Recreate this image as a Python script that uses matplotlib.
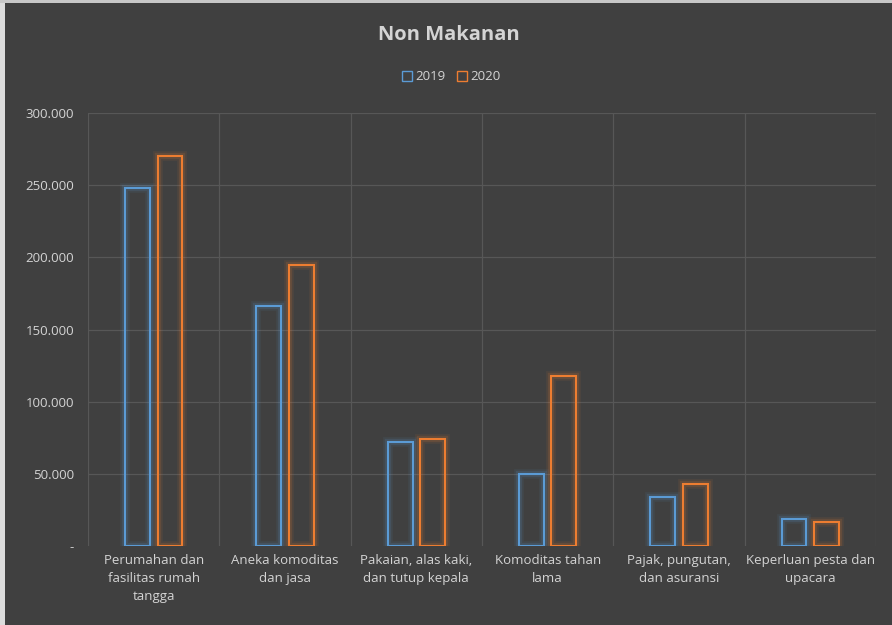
import matplotlib
matplotlib.use("Agg")
import matplotlib.pyplot as plt
import matplotlib.patheffects as pe
from matplotlib.lines import Line2D
from matplotlib.patches import Rectangle
import numpy as np

categories = ["Perumahan dan\nfasilitas rumah\ntangga", "Aneka komoditas\ndan jasa",
              "Pakaian, alas kaki,\ndan tutup kepala", "Komoditas tahan\nlama",
              "Pajak, pungutan,\ndan asuransi", "Keperluan pesta dan\nupacara"]
values_2019 = [248000, 166500, 72000, 50000, 34000, 18700]
values_2020 = [270000, 194700, 74000, 117700, 43000, 16600]
yticks = [0, 50000, 100000, 150000, 200000, 250000, 300000]
ytick_labels = ["-", "50.000", "100.000", "150.000", "200.000", "250.000", "300.000"]

bg = "#404040"
txt = "#d4d4d4"
blue = "#5b9bd5"
orange = "#ed7d31"

plt.rcParams['font.family'] = ['Open Sans', 'DejaVu Sans']
fig = plt.figure(figsize=(8.92, 6.25), dpi=100, facecolor=bg)
ax = fig.add_axes([0.0987, 0.1264, 0.8833, 0.6926])
ax.set_facecolor(bg)

x = np.arange(len(categories))
w = 0.19
off = 0.124
for vals, col, sgn in [(values_2019, blue, -1), (values_2020, orange, 1)]:
    bars = ax.bar(x + sgn * off, vals, width=w, facecolor="none", edgecolor=col, linewidth=1.5, zorder=3)
    for b in bars:
        b.set_path_effects([pe.Stroke(linewidth=7, foreground=col, alpha=0.08),
                            pe.Stroke(linewidth=4.5, foreground=col, alpha=0.14),
                            pe.Normal()])

ax.set_xlim(-0.5, len(categories) - 0.5)
ax.set_ylim(0, 300000)
ax.set_yticks(yticks)
ax.set_yticklabels(ytick_labels, color=txt, fontsize=9.5)
ax.set_xticks(x)
ax.set_xticklabels(categories, color=txt, fontsize=9.5, linespacing=1.5)
ax.tick_params(axis='both', length=0, pad=10)
ax.tick_params(axis='x', pad=6)
for yv in yticks[1:]:
    ax.axhline(yv, color="#575757", linewidth=0.9, zorder=1)
for xv in np.arange(-0.5, len(categories), 1.0):
    ax.axvline(xv, color="#575757", linewidth=0.9, zorder=1)
for s in ax.spines.values():
    s.set_visible(False)

fig.text(0.503, 0.944, "Non Makanan", ha="center", va="center", color=txt, fontsize=14.5, fontweight="bold")
handles = [Line2D([], [], marker="s", linestyle="none", markerfacecolor="none", markeredgecolor=blue, markersize=7),
           Line2D([], [], marker="s", linestyle="none", markerfacecolor="none", markeredgecolor=orange, markersize=7)]
leg = fig.legend(handles, ["2019", "2020"], loc="center", bbox_to_anchor=(0.505, 0.877), ncol=2, frameon=False,
                 fontsize=9.5, handletextpad=0.1, columnspacing=0.8, handlelength=1.0)
for t in leg.get_texts():
    t.set_color(txt)

# light screenshot border on left and top edges
fig.patches.append(Rectangle((0, 0), 5 / 892, 1, transform=fig.transFigure, facecolor="#dcdcdc", edgecolor="none", zorder=10))
fig.patches.append(Rectangle((0, 1 - 3 / 625), 1, 3 / 625, transform=fig.transFigure, facecolor="#c8c8c8", edgecolor="none", zorder=10))

fig.savefig("out.png", dpi=100, facecolor=bg)
